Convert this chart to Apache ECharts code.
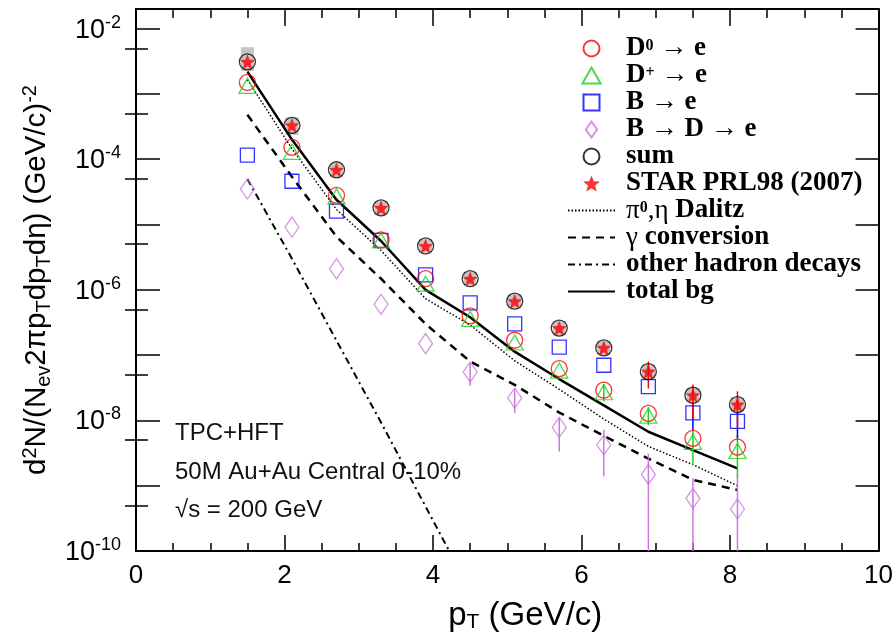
<!DOCTYPE html>
<html><head><meta charset="utf-8">
<script src="https://cdn.jsdelivr.net/npm/echarts@6/dist/echarts.min.js"></script>
<style>html,body{margin:0;padding:0;background:#fff}#c{width:896px;height:638px}</style>
</head><body><div id="c"></div>
<script>
// ---- data ----
const pT = [1.5, 2.1, 2.7, 3.3, 3.9, 4.5, 5.1, 5.7, 6.3, 6.9, 7.5, 8.1];
const d0E  = [1.5e-3, 1.52e-4, 2.8e-5, 5.8e-6, 1.48e-6, 4.0e-7, 1.69e-7, 6.2e-8, 2.9e-8, 1.28e-8, 5.3e-9, 3.9e-9];
const dpE  = [1.33e-3, 1.3e-4, 2.7e-5, 5.7e-6, 1.24e-6, 3.6e-7, 1.56e-7, 5.8e-8, 2.7e-8, 1.18e-8, 4.7e-9, 3.4e-9];
const bE   = [1.16e-4, 4.6e-5, 1.6e-5, 5.7e-6, 1.7e-6, 6.3e-7, 3.0e-7, 1.33e-7, 7.0e-8, 3.3e-8, 1.3e-8, 9.7e-9];
const bdE  = [3.5e-5, 9.1e-6, 2.1e-6, 6.0e-7, 1.5e-7, 5.5e-8, 2.2e-8, 7.8e-9, 4.2e-9, 1.49e-9, 6.4e-10, 4.4e-10];
const sumE = [3.1e-3, 3.3e-4, 6.9e-5, 1.8e-5, 4.7e-6, 1.48e-6, 6.7e-7, 2.6e-7, 1.29e-7, 5.6e-8, 2.43e-8, 1.75e-8];
const starE = [3.1e-3, 3.3e-4, 6.9e-5, 1.8e-5, 4.7e-6, 1.48e-6, 6.7e-7, 2.6e-7, 1.29e-7, 5.6e-8, 2.43e-8, 1.75e-8];
const starSystLo = [2.24e-3, 2.35e-4, 5.4e-5, 1.4e-5, 3.7e-6, 1.16e-6, 5.2e-7, 2.0e-7, 1.0e-7, 4.4e-8, 1.9e-8, 1.37e-8];
const starSystHi = [5.2e-3, 4.4e-4, 8.8e-5, 2.3e-5, 6.0e-6, 1.9e-6, 8.6e-7, 3.3e-7, 1.65e-7, 7.2e-8, 3.1e-8, 2.24e-8];
const dalitz = [1.65e-3, 1.45e-4, 1.7e-5, 4.0e-6, 7.3e-7, 2.9e-7, 8.2e-8, 3.0e-8, 1.05e-8, 4.0e-9, 2.1e-9, 1.0e-9];
const gconv  = [4.8e-4, 5.4e-5, 6.5e-6, 1.48e-6, 3.0e-7, 8.0e-8, 3.5e-8, 1.32e-8, 5.8e-9, 2.6e-9, 1.23e-9, 8.6e-10];
const otherHad = [5.0e-5, 3.0e-6, 1.67e-7, 9.3e-9, 4.8e-10, 2.5e-11];
const totalBg = [2.2e-3, 2.0e-4, 2.4e-5, 5.6e-6, 1.0e-6, 3.8e-7, 1.13e-7, 4.3e-8, 1.7e-8, 6.7e-9, 3.5e-9, 1.84e-9];
// error bars: [pT, low, high]
const dpErr = [[6.3, 1.95e-8, 3.6e-8], [6.9, 8.4e-9, 1.6e-8], [7.5, 2.07e-9, 7.0e-9], [8.1, 1.3e-9, 6.0e-9]];
const bdErr = [[4.5, 3.4e-8, 7.5e-8], [5.1, 1.3e-8, 3.0e-8], [5.7, 3.35e-9, 1.1e-8], [6.3, 1.39e-9, 7.2e-9], [6.9, 1e-12, 3.1e-9], [7.5, 1e-12, 1.3e-9], [8.1, 1e-12, 1.4e-9]];
const starErr = [[6.9, 3.08e-8, 7.96e-8], [7.5, 1.07e-8, 3.54e-8], [8.1, 7.5e-9, 2.79e-8]];
const bErr = [[7.5, 7.1e-9, 1.8e-8], [8.1, 5.3e-9, 1.3e-8]];
// axes
const yMajorTicks = [1e-10, 1e-9, 1e-8, 1e-7, 1e-6, 1e-5, 1e-4, 1e-3, 1e-2];
const yMinorTicks = [5e-10, 5e-9, 5e-8, 5e-7, 5e-6, 5e-5, 5e-4, 5e-3];
const yLabelTicks = [1e-10, 1e-8, 1e-6, 1e-4, 1e-2];
const legendNames = ['D0 → e', 'D+ → e', 'B → e', 'B → D → e', 'sum', 'STAR PRL98 (2007)', 'π0,η Dalitz', 'γ conversion', 'other hadron decays', 'total bg'];
const lineLegendNames = ['π0,η Dalitz', 'γ conversion', 'other hadron decays', 'total bg'];

const zip = (xs, ys) => ys.map((y, i) => [xs[i], y]);
const STAR_PATH = 'path://M0,-10L2.6,-3.4L9.5,-3.1L4.1,1.3L5.9,8.1L0,4.3L-5.9,8.1L-4.1,1.3L-9.5,-3.1L-2.6,-3.4Z';
const TRI_PATH = 'path://M8.5,0L17,15L0,15Z';
const RECT_PATH = 'path://M0,0H14V14H0Z';
const DIAM_PATH = 'path://M7,0L14,10L7,20L0,10Z';
const SANS = 'Liberation Sans';
const SERIF = 'Liberation Serif';

function clampY(y, cs) { return Math.max(cs.y, Math.min(cs.y + cs.height, y)); }
function errRender(color) {
  return function (params, api) {
    const cs = params.coordSys;
    const p1 = api.coord([api.value(0), api.value(1)]);
    const p2 = api.coord([api.value(0), api.value(2)]);
    return { type: 'line', shape: { x1: p1[0], y1: clampY(p1[1], cs), x2: p2[0], y2: clampY(p2[1], cs) },
      style: { stroke: color, lineWidth: 1.5 } };
  };
}
function boxRender(params, api) {
  const p1 = api.coord([api.value(0), api.value(1)]);
  const p2 = api.coord([api.value(0), api.value(2)]);
  return { type: 'rect', shape: { x: p1[0] - 6.5, y: p2[1], width: 13, height: p1[1] - p2[1] },
    style: { fill: '#c4c4c4' } };
}
const open = (c) => ({ color: 'rgba(255,255,255,0)', borderColor: c, borderWidth: 1.3 });

const legendRich = {
  sp: { width: 6, height: 22 },
  b: { fontFamily: SERIF, fontWeight: 'bold', fontSize: 27, lineHeight: 22, height: 22, color: '#000' },
  g: { fontFamily: SERIF, fontSize: 27, lineHeight: 22, height: 22, color: '#000' },
  sup: { fontFamily: SERIF, fontWeight: 'bold', fontSize: 16, lineHeight: 12, verticalAlign: 'top', color: '#000' }
};
const legendFmt = {
  'D0 → e': '{sp|}{b|D}{sup|0}{b| → e}',
  'D+ → e': '{sp|}{b|D}{sup|+}{b| → e}',
  'B → e': '{sp|}{b|B → e}',
  'B → D → e': '{sp|}{b|B → D → e}',
  'sum': '{sp|}{b|sum}',
  'STAR PRL98 (2007)': '{sp|}{b|STAR PRL98 (2007)}',
  'π0,η Dalitz': '{sp|}{g|π}{sup|0}{g|,η}{b| Dalitz}',
  'γ conversion': '{sp|}{g|γ}{b| conversion}',
  'other hadron decays': '{sp|}{b|other hadron decays}',
  'total bg': '{sp|}{b|total bg}'
};

const baseX = {
  type: 'value', min: 0, max: 10, interval: 2,
  axisLine: { show: true, onZero: false, lineStyle: { color: '#000', width: 2 } },
  axisTick: { show: true, inside: true, length: 16, lineStyle: { color: '#000', width: 1.5 } },
  minorTick: { show: true, splitNumber: 4, length: 8, lineStyle: { color: '#000', width: 1.5 } },
  splitLine: { show: false }, minorSplitLine: { show: false }
};
const baseY = {
  type: 'log', min: 1e-10, max: 2e-2,
  splitLine: { show: false }, minorTick: { show: false },
  axisLine: { show: true, onZero: false, lineStyle: { color: '#000', width: 2 } }
};

const option = {
  animation: false,
  backgroundColor: '#fff',
  grid: { left: 136, right: 15, top: 9, bottom: 84, containLabel: false },
  xAxis: [
    Object.assign({}, baseX, {
      position: 'bottom',
      axisLabel: { fontSize: 26, fontFamily: SANS, color: '#000', margin: 12 },
      name: '{sp|}{b|p}{s|T}{b| (GeV/c)}', nameLocation: 'middle', nameGap: 48,
      nameTextStyle: { rich: {
        sp: { width: 36 },
        b: { fontFamily: SANS, fontSize: 33, lineHeight: 34, color: '#000' },
        s: { fontFamily: SANS, fontSize: 21, lineHeight: 14, verticalAlign: 'bottom', color: '#000' } } }
    }),
    Object.assign({}, baseX, { position: 'top', axisLabel: { show: false },
      axisTick: { show: true, inside: true, length: 17, lineStyle: { color: '#000', width: 1.5 } },
      minorTick: { show: true, splitNumber: 4, length: 9, lineStyle: { color: '#000', width: 1.5 } } })
  ],
  yAxis: [
    Object.assign({}, baseY, {
      position: 'left',
      axisTick: { show: true, inside: true, length: 24, customValues: yMajorTicks, lineStyle: { color: '#000', width: 1.5 } },
      axisLabel: { customValues: yLabelTicks, margin: 15,
        formatter: v => '{b|10}{s|' + Math.round(Math.log10(v)) + '}',
        rich: {
          b: { fontFamily: SANS, fontSize: 27, lineHeight: 30, verticalAlign: 'bottom', color: '#000' },
          s: { fontFamily: SANS, fontSize: 18, lineHeight: 18, verticalAlign: 'top', color: '#000' } } },
      name: '{b|d}{s|2}{b|N/(N}{u|ev}{b|2πp}{u|T}{b|dp}{u|T}{b|dη) (GeV/c)}{s|-2}',
      nameLocation: 'middle', nameRotate: 90, nameGap: 64,
      nameTextStyle: { rich: {
        b: { fontFamily: SANS, fontSize: 29.5, lineHeight: 34, color: '#000' },
        s: { fontFamily: SANS, fontSize: 20, lineHeight: 16, verticalAlign: 'top', color: '#000' },
        u: { fontFamily: SANS, fontSize: 20, lineHeight: 14, verticalAlign: 'bottom', color: '#000' } } }
    }),
    Object.assign({}, baseY, { position: 'left', axisLine: { show: false },
      axisTick: { show: true, inside: true, length: 12, customValues: yMinorTicks, lineStyle: { color: '#000', width: 1.5 } },
      axisLabel: { show: false } }),
    Object.assign({}, baseY, { position: 'right',
      axisTick: { show: true, inside: true, length: 23, customValues: yMajorTicks, lineStyle: { color: '#000', width: 1.5 } },
      axisLabel: { show: false } }),
    Object.assign({}, baseY, { position: 'right', axisLine: { show: false },
      axisTick: { show: true, inside: true, length: 11, customValues: yMinorTicks, lineStyle: { color: '#000', width: 1.5 } },
      axisLabel: { show: false } })
  ],
  legend: {
    data: legendNames.map(n => lineLegendNames.indexOf(n) >= 0
      ? { name: n, itemStyle: { color: 'rgba(0,0,0,0)', borderWidth: 0 } } : { name: n }),
    orient: 'vertical', left: 562, top: 30,
    itemWidth: 47, itemHeight: 16, itemGap: 0, selectedMode: false, symbolKeepAspect: true,
    formatter: n => legendFmt[n] || n,
    textStyle: { rich: legendRich }
  },
  graphic: [
    { type: 'text', left: 175, top: 421, style: { text: 'TPC+HFT', font: '24px "Liberation Sans"', fill: '#111' } },
    { type: 'text', left: 175, top: 460, style: { text: '50M Au+Au Central 0-10%', font: '24px "Liberation Sans"', fill: '#111' } },
    { type: 'text', left: 175, top: 498, style: { text: '√s = 200 GeV', font: '24px "Liberation Sans"', fill: '#111' } }
  ],
  series: [
    { name: 'STAR syst', type: 'custom', renderItem: boxRender, z: 1, clip: true,
      encode: { x: 0, y: [1, 2] }, data: pT.map((x, i) => [x, starSystLo[i], starSystHi[i]]) },
    { name: 'π0,η Dalitz', type: 'line', data: zip(pT, dalitz), symbol: 'none', z: 3,
      lineStyle: { color: '#000', width: 1.5, type: [1.5, 2] }, itemStyle: { color: '#000' } },
    { name: 'γ conversion', type: 'line', data: zip(pT, gconv), symbol: 'none', z: 3,
      lineStyle: { color: '#000', width: 2.5, type: [8, 6] }, itemStyle: { color: '#000' } },
    { name: 'other hadron decays', type: 'line', data: zip(pT, otherHad), symbol: 'none', z: 3, clip: true,
      lineStyle: { color: '#000', width: 2, type: [7, 4, 2, 4] }, itemStyle: { color: '#000' } },
    { name: 'total bg', type: 'line', data: zip(pT, totalBg), symbol: 'none', z: 3,
      lineStyle: { color: '#000', width: 2.5 }, itemStyle: { color: '#000' } },
    { name: 'dp err', type: 'custom', renderItem: errRender('#22cc22'), z: 4, encode: { x: 0, y: [1, 2] }, data: dpErr },
    { name: 'bd err', type: 'custom', renderItem: errRender('#cc77dd'), z: 4, encode: { x: 0, y: [1, 2] }, data: bdErr },
    { name: 'b err', type: 'custom', renderItem: errRender('#0000ff'), z: 4, encode: { x: 0, y: [1, 2] }, data: bErr },
    { name: 'star err', type: 'custom', renderItem: errRender('#ff0000'), z: 4, encode: { x: 0, y: [1, 2] }, data: starErr },
    { name: 'B → D → e', type: 'scatter', data: zip(pT, bdE), symbol: DIAM_PATH, symbolSize: [14, 20], z: 5, itemStyle: open('#cc77dd') },
    { name: 'B → e', type: 'scatter', data: zip(pT, bE), symbol: RECT_PATH, symbolSize: 14, z: 5, itemStyle: open('#0000ff') },
    { name: 'D0 → e', type: 'scatter', data: zip(pT, d0E), symbol: 'circle', symbolSize: 16, z: 5, itemStyle: open('#ff0000') },
    { name: 'D+ → e', type: 'scatter', data: zip(pT, dpE), symbol: TRI_PATH, symbolSize: [17, 15], z: 6, itemStyle: open('#22cc22') },
    { name: 'sum', type: 'scatter', data: zip(pT, sumE), symbol: 'circle', symbolSize: 16, z: 6, itemStyle: open('#000000') },
    { name: 'STAR PRL98 (2007)', type: 'scatter', data: zip(pT, starE), symbol: STAR_PATH, symbolSize: 15, z: 7,
      itemStyle: { color: '#ff0000' } }
  ]
};
const chart = echarts.init(document.getElementById('c'), null, { renderer: 'canvas' });
chart.setOption(option);
</script></body></html>
